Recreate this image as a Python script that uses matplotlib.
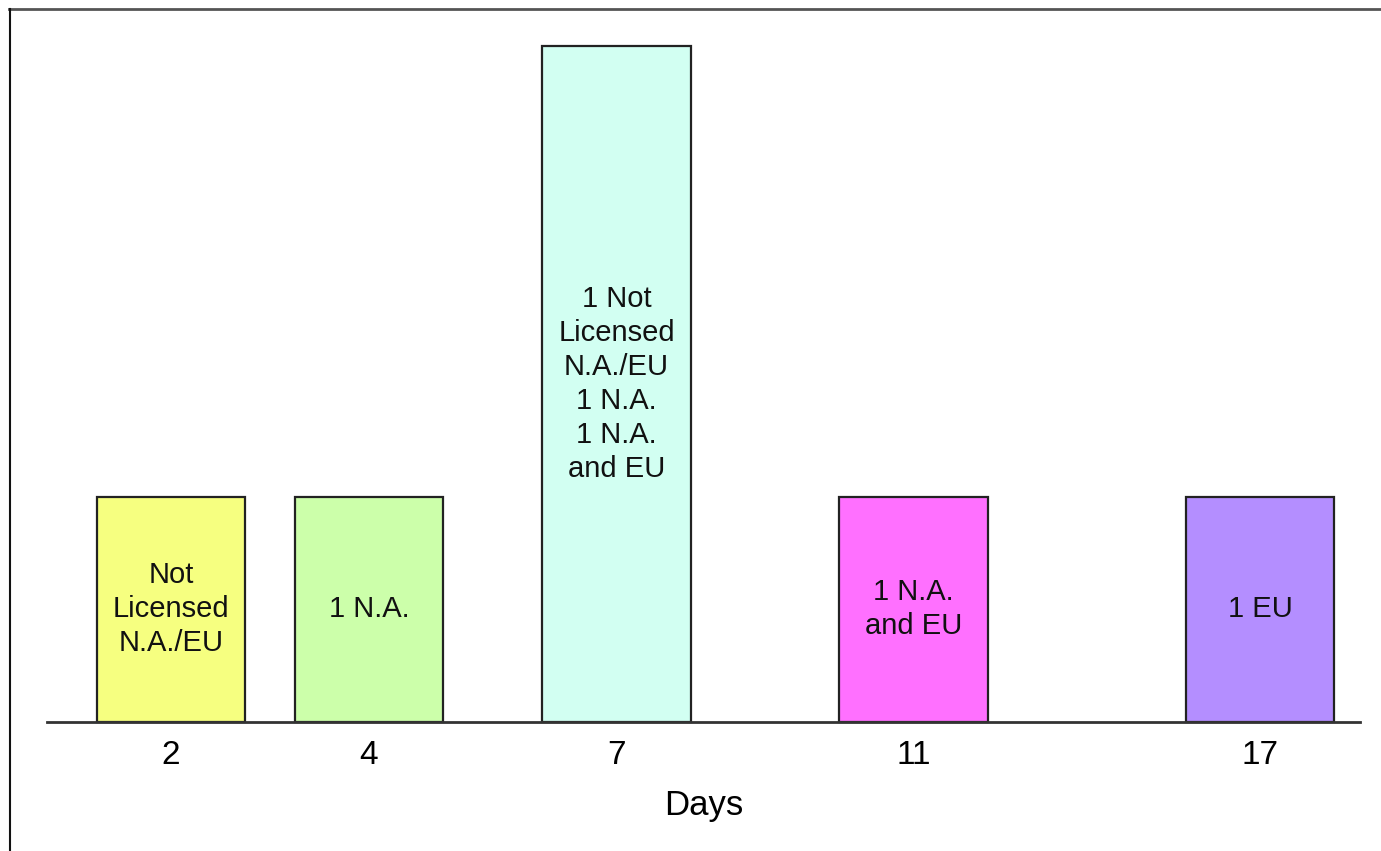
import matplotlib
matplotlib.use("Agg")
import matplotlib.pyplot as plt
from matplotlib.lines import Line2D

plt.rcParams['font.family'] = ['Liberation Sans', 'DejaVu Sans']

# Data
days = ["2", "4", "7", "11", "17"]
counts = [1, 1, 3, 1, 1]
bar_labels = [
    "Not\nLicensed\nN.A./EU",
    "1 N.A.",
    "1 Not\nLicensed\nN.A./EU\n1 N.A.\n1 N.A.\nand EU",
    "1 N.A.\nand EU",
    "1 EU",
]
bar_colors = ["#F6FF80", "#CCFFAA", "#D2FFF2", "#FF70FF", "#B48EFF"]

# Layout: horizontal slot for each day along the axis
slots = [0, 2, 4.5, 7.5, 11]

W, H = 1381, 851
fig = plt.figure(figsize=(W / 100, H / 100), dpi=100)
ax = fig.add_axes([47 / W, (H - 722) / H, (1360 - 47) / W, (722 - 46) / H])

bars = ax.bar(slots, counts, width=1.5, color=bar_colors,
              edgecolor="#222222", linewidth=1.6, zorder=2)
for b in bars:
    b.set_clip_on(False)

for x, c, lab in zip(slots, counts, bar_labels):
    ax.text(x, c / 2, lab, ha="center", va="center", fontsize=21,
            linespacing=1.27, color="#111111")

ax.set_xlim(-1.2525, 12.01)
ax.set_ylim(0, 3)
ax.set_xticks(slots)
ax.set_xticklabels(days, fontsize=24)
ax.tick_params(axis="x", length=0, pad=13)
ax.set_yticks([])
for s in ["top", "right", "left"]:
    ax.spines[s].set_visible(False)
ax.spines["bottom"].set_linewidth(2)
ax.spines["bottom"].set_color("#333333")
ax.set_xlabel("Days", fontsize=25, labelpad=13)

# Outer frame lines (top and left)
fig.add_artist(Line2D([9 / W, 1], [1 - 9 / H, 1 - 9 / H],
                      transform=fig.transFigure, color="#555555", linewidth=2))
fig.add_artist(Line2D([9.5 / W, 9.5 / W], [0, 1 - 9 / H],
                      transform=fig.transFigure, color="#111111", linewidth=1.5))

fig.savefig("out.png", dpi=100)
